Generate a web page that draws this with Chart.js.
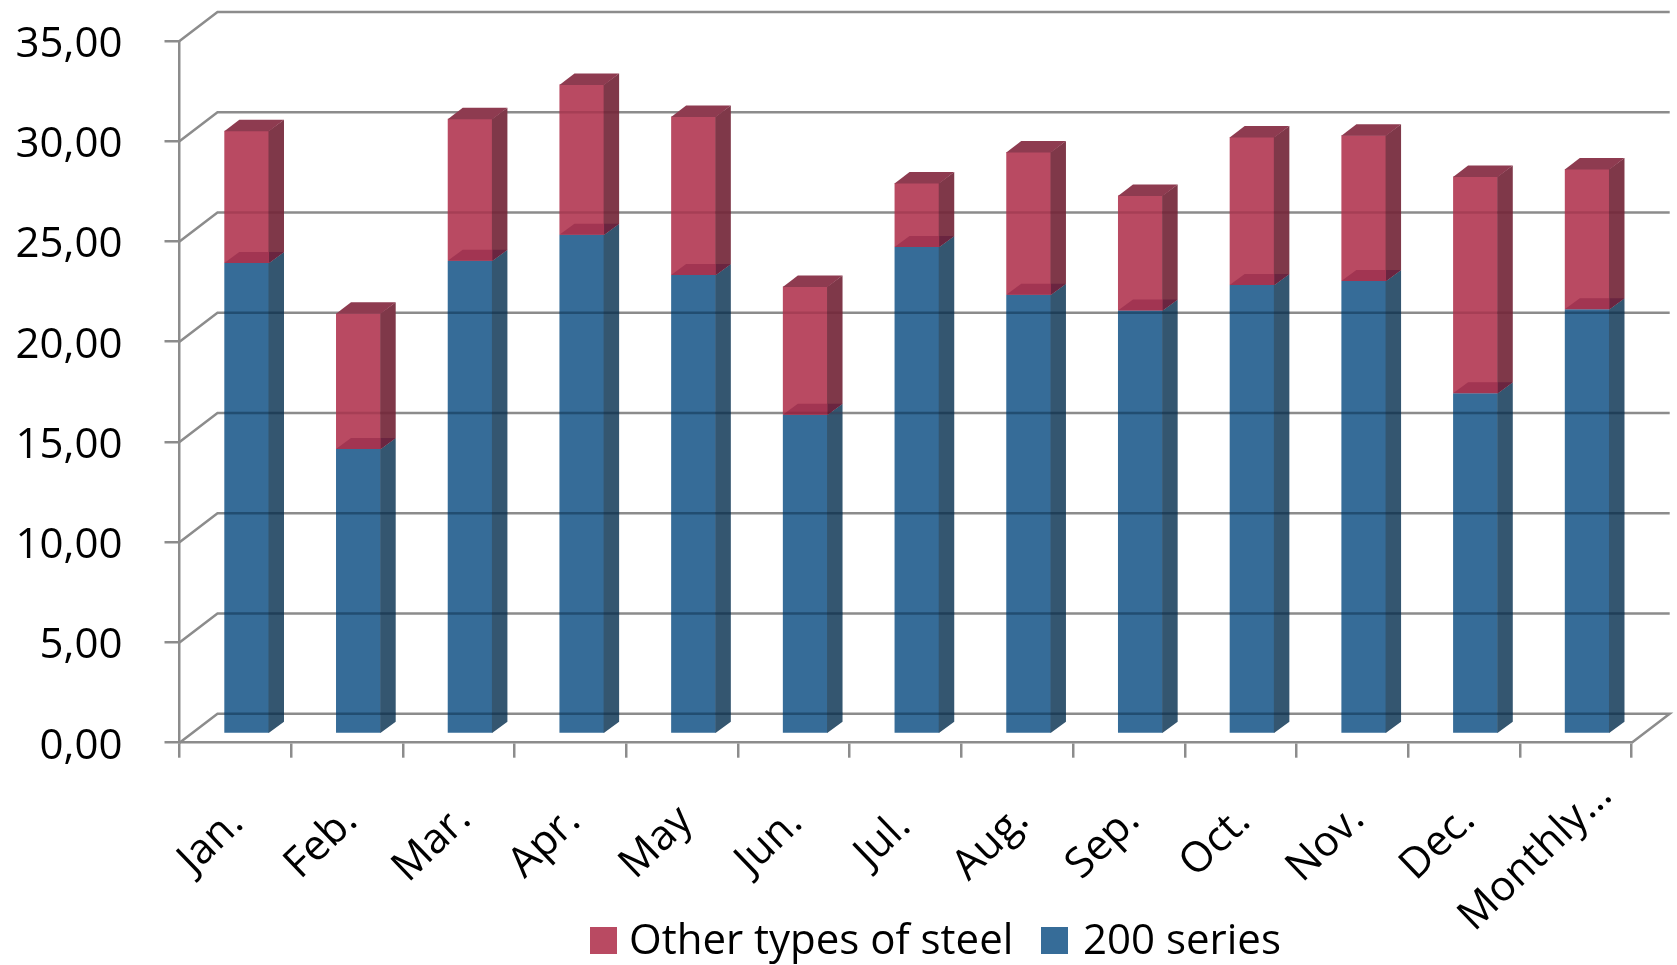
<!DOCTYPE html>
<html>
<head>
<meta charset="utf-8">
<title>Steel chart</title>
<script src="https://cdn.jsdelivr.net/npm/chart.js@4/dist/chart.umd.min.js"></script>
<style>
    html, body { margin: 0; padding: 0; background: #fff; }
    canvas { display: block; }
</style>
</head>
<body>
<canvas id="myChart" width="1677" height="965"></canvas>
<script>
// data
const categories = ['Jan.', 'Feb.', 'Mar.', 'Apr.', 'May', 'Jun.', 'Jul.', 'Aug.', 'Sep.', 'Oct.', 'Nov.', 'Dec.', 'Monthly…'];
const series200 = [23.49, 14.22, 23.60, 24.90, 22.90, 15.92, 24.29, 21.91, 21.12, 22.40, 22.60, 17.00, 21.19];
const seriesOther = [6.60, 6.77, 7.09, 7.50, 7.90, 6.40, 3.19, 7.12, 5.74, 7.38, 7.26, 10.81, 6.99];
const yTicks = [0, 5, 10, 15, 20, 25, 30, 35];

const gray = '#8c8c8c';
const red = '#b94a62';
const blue = '#366c98';
const fontName = '"Open Sans"';

// depth of the fake 3d
const wallX = 38, wallY = 29;     // back wall
const barDX = 11.3, barDY = 8.7;  // bars stand a bit inside the floor
const depthX = 15, depthY = 11;   // depth of one bar

const poly = (ctx, color, pts) => {
    ctx.fillStyle = color;
    ctx.beginPath();
    pts.forEach((p, i) => i ? ctx.lineTo(p[0], p[1]) : ctx.moveTo(p[0], p[1]));
    ctx.closePath();
    ctx.fill();
};

// lines of the walls and the floor
const wallsPlugin = {
    id: 'walls',
    beforeDatasetsDraw(chart) {
        const ctx = chart.ctx, y = chart.scales.y, area = chart.chartArea;
        ctx.save();
        ctx.strokeStyle = gray;
        ctx.lineWidth = 2.5;
        yTicks.forEach(v => {
            const py = y.getPixelForValue(v);
            ctx.beginPath();
            ctx.moveTo(area.left, py);
            ctx.lineTo(area.left + wallX, py - wallY);
            ctx.lineTo(area.right + wallX, py - wallY);
            if (v === 0) ctx.lineTo(area.right, py);
            ctx.stroke();
        });
        ctx.restore();
    }
};

// bars are moved inside the floor, the other faces are added on top
const facesPlugin = {
    id: 'faces',
    beforeDatasetsDraw(chart) {
        chart.ctx.save();
        chart.ctx.translate(barDX, -barDY);
    },
    afterDatasetsDraw(chart) {
        const ctx = chart.ctx, y = chart.scales.y;
        const low = chart.getDatasetMeta(0).data;
        const high = chart.getDatasetMeta(1).data;

        low.forEach((bar, i) => {
            const l = bar.x - bar.width / 2, r = bar.x + bar.width / 2;
            const base = bar.base, mid = bar.y, top = high[i].y;
            const rr = r + depthX;

            // side faces, a little over the front so no seam shows
            poly(ctx, '#345670', [[r - 0.5, base], [r, base], [rr, base - depthY], [rr, mid - depthY], [r, mid], [r - 0.5, mid]]);
            poly(ctx, '#7f3849', [[r - 0.5, mid], [r, mid], [rr, mid - depthY], [rr, top - depthY], [r, top], [r - 0.5, top]]);
            // top of the bar
            poly(ctx, '#8e3b50', [[l, top + 0.5], [r, top + 0.5], [rr, top - depthY], [l + depthX, top - depthY]]);
            // where both series meet
            poly(ctx, '#a23552', [[l, mid], [r, mid], [r, mid - depthY], [l + depthX, mid - depthY]]);
            poly(ctx, '#6a2540', [[r, mid], [rr, mid - depthY], [r, mid - depthY]]);

            // wall lines seen through the bar
            yTicks.forEach(v => {
                const ly = y.getPixelForValue(v) - wallY + barDY;
                if (ly > base || ly < top) return;
                const onBlue = ly > mid;
                ctx.strokeStyle = onBlue ? 'rgba(0,25,50,0.38)' : 'rgba(70,0,20,0.16)';
                ctx.lineWidth = 2.5;
                ctx.beginPath();
                ctx.moveTo(l, ly);
                ctx.lineTo(rr, ly);
                ctx.stroke();
            });
        });
        ctx.restore();
    }
};

// month labels and legend
const labelsPlugin = {
    id: 'labelsAndLegend',
    afterDraw(chart) {
        const ctx = chart.ctx, x = chart.scales.x;
        ctx.save();
        ctx.fillStyle = '#000';
        ctx.font = '42px ' + fontName;
        ctx.textAlign = 'center';
        ctx.textBaseline = 'middle';
        categories.forEach((c, i) => {
            const w = ctx.measureText(c).width;
            ctx.save();
            ctx.translate(x.getPixelForTick(i) - 15 - 0.13 * w, 833 + 0.12 * w);
            ctx.rotate(-44 * Math.PI / 180);
            ctx.fillText(c, 0, 0);
            ctx.restore();
        });

        const entries = [
            { ds: chart.data.datasets[1], box: 590, text: 629 },
            { ds: chart.data.datasets[0], box: 1041, text: 1083 }
        ];
        ctx.textAlign = 'left';
        ctx.textBaseline = 'alphabetic';
        ctx.font = '42px ' + fontName;
        entries.forEach(e => {
            ctx.fillStyle = e.ds.backgroundColor;
            ctx.fillRect(e.box, 927, 27, 27);
            ctx.fillStyle = '#000';
            ctx.fillText(e.ds.label, e.text, 954);
        });
        ctx.restore();
    }
};

const chartData = {
    labels: categories,
    datasets: [{
        label: '200 series',
        backgroundColor: blue,
        data: series200
    }, {
        label: 'Other types of steel',
        backgroundColor: red,
        data: seriesOther
    }]
};

const config = {
    type: 'bar',
    data: chartData,
    plugins: [wallsPlugin, facesPlugin, labelsPlugin],
    options: {
        responsive: false,
        animation: false,
        layout: { padding: { top: 41, right: 45.3, left: 0, bottom: 0 } },
        plugins: {
            legend: { display: false },
            tooltip: { enabled: false }
        },
        datasets: {
            bar: { categoryPercentage: 1, barPercentage: 0.4, borderWidth: 0 }
        },
        scales: {
            x: {
                stacked: true,
                afterFit: s => { s.height = 222.3; },
                grid: { drawOnChartArea: false, color: gray, lineWidth: 2.5, tickLength: 15 },
                border: { color: gray, width: 2.5 },
                ticks: { display: false }
            },
            y: {
                stacked: true,
                min: 0,
                max: 35,
                // no room kept for the top label, the chart must start at 41px
                afterFit: s => { s.width = 179.5; s.paddingTop = 0; s.paddingBottom = 0; },
                afterBuildTicks: s => { s.ticks = yTicks.map(v => ({ value: v })); },
                grid: { drawOnChartArea: false, color: gray, lineWidth: 2.5, tickLength: 15 },
                border: { color: gray, width: 2.5 },
                ticks: {
                    color: '#000',
                    padding: 42,
                    labelOffset: 4,
                    font: { family: fontName, size: 42 },
                    callback: v => v.toFixed(2).replace('.', ',')
                }
            }
        }
    }
};

const ctx = document.getElementById('myChart').getContext('2d');
const myChart = new Chart(ctx, config);
</script>
</body>
</html>
